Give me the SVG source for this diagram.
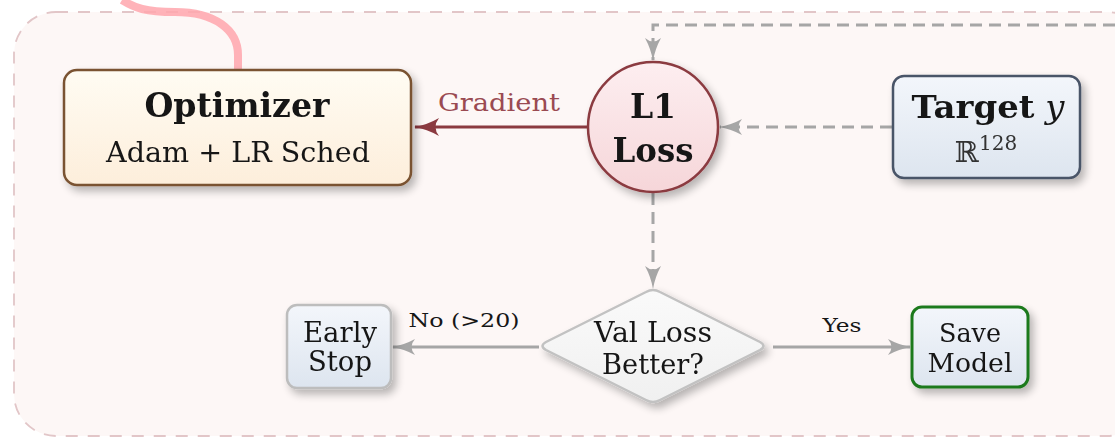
<svg xmlns="http://www.w3.org/2000/svg" width="1115" height="438" viewBox="0 0 1115 438">
<defs>
<linearGradient id="gOpt" x1="0" y1="0" x2="0" y2="1"><stop offset="0" stop-color="#fffcf3"/><stop offset="1" stop-color="#fdeedb"/></linearGradient>
<linearGradient id="gLoss" x1="0" y1="0" x2="0" y2="1"><stop offset="0" stop-color="#fdeef0"/><stop offset="1" stop-color="#f6d6d9"/></linearGradient>
<linearGradient id="gBlue" x1="0" y1="0" x2="0" y2="1"><stop offset="0" stop-color="#f3f6fb"/><stop offset="1" stop-color="#dde5ef"/></linearGradient>
<linearGradient id="gDia" x1="0" y1="0" x2="0" y2="1"><stop offset="0" stop-color="#fafafa"/><stop offset="1" stop-color="#f0f0f0"/></linearGradient>
<filter id="sh" x="-20%" y="-20%" width="150%" height="150%"><feGaussianBlur in="SourceAlpha" stdDeviation="4"/><feOffset dx="4" dy="5"/><feComponentTransfer><feFuncA type="linear" slope="0.28"/></feComponentTransfer><feMerge><feMergeNode/><feMergeNode in="SourceGraphic"/></feMerge></filter>
<marker id="aRed" viewBox="0 0 25 20" refX="24" refY="10" markerWidth="25" markerHeight="20" markerUnits="userSpaceOnUse" orient="auto"><path d="M0,1 Q12,8 25,10 Q12,12 0,19 Q7,10 0,1 Z" fill="#8b3a40"/></marker>
<marker id="aGray" viewBox="0 0 23 18" refX="22" refY="9" markerWidth="23" markerHeight="18" markerUnits="userSpaceOnUse" orient="auto"><path d="M0,1 Q11,7 23,9 Q11,11 0,17 Q7,9 0,1 Z" fill="#a6a6a6"/></marker>
</defs>
<style>
text{font-family:"DejaVu Serif","Liberation Serif",serif;text-anchor:middle;fill:#161616}
.b{font-weight:bold}
.dash{fill:none;stroke:#a6a6a6;stroke-width:3;stroke-dasharray:12 7}
.solid{fill:none;stroke:#a6a6a6;stroke-width:3}
</style>
<rect x="0" y="0" width="1115" height="438" fill="#ffffff"/>
<rect id="container" x="14" y="12" width="1135" height="424" rx="42" fill="#fdf7f6" stroke="#e2c6c8" stroke-width="1.8" stroke-dasharray="12 10"/>
<path d="M122,0 C135,8 145,12 175,12 C215,12 238,30 238,55 L238,72" fill="none" stroke="#ffa6ad" stroke-width="8" stroke-opacity="0.85"/>
<g id="connectors">
<path class="dash" d="M1115,25 H653 V60" marker-end="url(#aGray)"/>
<path class="dash" d="M892,127 H720" marker-end="url(#aGray)"/>
<path class="dash" d="M653,193 V288" marker-end="url(#aGray)"/>
<path d="M588,127 H415" fill="none" stroke="#8b3a40" stroke-width="3" marker-end="url(#aRed)"/>
<text x="499" y="111" textLength="122" lengthAdjust="spacingAndGlyphs" style="font-size:25px;fill:#9a4a52">Gradient</text>
<path class="solid" d="M539,347 H393" marker-end="url(#aGray)"/>
<text x="464" y="327" textLength="111" lengthAdjust="spacingAndGlyphs" style="font-size:18px">No (&gt;20)</text>
<path class="solid" d="M773,347 H910" marker-end="url(#aGray)"/>
<text x="842" y="332" textLength="39" lengthAdjust="spacingAndGlyphs" style="font-size:18px">Yes</text>
</g>
<g id="optimizer" filter="url(#sh)">
<rect x="64" y="70" width="347" height="115" rx="13" fill="url(#gOpt)" stroke="#7a5230" stroke-width="2.5"/>
<text x="237" y="117" class="b" textLength="185" lengthAdjust="spacingAndGlyphs" style="font-size:33px">Optimizer</text>
<text x="238" y="162" textLength="264" lengthAdjust="spacingAndGlyphs" style="font-size:28px">Adam + LR Sched</text>
</g>
<g id="loss" filter="url(#sh)">
<circle cx="653" cy="127" r="65" fill="url(#gLoss)" stroke="#8b3a40" stroke-width="2.5"/>
<text x="653" y="118" class="b" style="font-size:33px">L1</text>
<text x="653" y="162" class="b" textLength="81" lengthAdjust="spacingAndGlyphs" style="font-size:33px">Loss</text>
</g>
<g id="target" filter="url(#sh)">
<rect x="893" y="76" width="187" height="102" rx="11" fill="url(#gBlue)" stroke="#4a5468" stroke-width="2.5"/>
<text x="988" y="118" textLength="153" lengthAdjust="spacingAndGlyphs" style="font-size:31px"><tspan class="b">Target</tspan> <tspan font-style="italic">y</tspan></text>
<text x="986" y="162" style="font-size:29px;fill:#333">ℝ<tspan font-size="20px" dy="-12">128</tspan></text>
</g>
<g id="decision" filter="url(#sh)">
<path d="M646,292 Q653,288 660,292 L760,342 Q767,346 760,350 L660,400 Q653,404 646,400 L546,350 Q539,346 546,342 Z" fill="url(#gDia)" stroke="#c2c2c2" stroke-width="2.5"/>
<text x="653" y="342" textLength="118" lengthAdjust="spacingAndGlyphs" style="font-size:27px">Val Loss</text>
<text x="653" y="374" textLength="102" lengthAdjust="spacingAndGlyphs" style="font-size:27px">Better?</text>
</g>
<g id="earlystop" filter="url(#sh)">
<rect x="287" y="305" width="104" height="83" rx="10" fill="url(#gBlue)" stroke="#bdbdbd" stroke-width="2.5"/>
<text x="340" y="342" textLength="74" lengthAdjust="spacingAndGlyphs" style="font-size:27px">Early</text>
<text x="340" y="371" textLength="64" lengthAdjust="spacingAndGlyphs" style="font-size:27px">Stop</text>
</g>
<g id="savemodel" filter="url(#sh)">
<rect x="912" y="307" width="116" height="80" rx="10" fill="url(#gBlue)" stroke="#1f7a1f" stroke-width="3"/>
<text x="970" y="342" textLength="62" lengthAdjust="spacingAndGlyphs" style="font-size:26px">Save</text>
<text x="970" y="372" textLength="85" lengthAdjust="spacingAndGlyphs" style="font-size:26px">Model</text>
</g>
</svg>
